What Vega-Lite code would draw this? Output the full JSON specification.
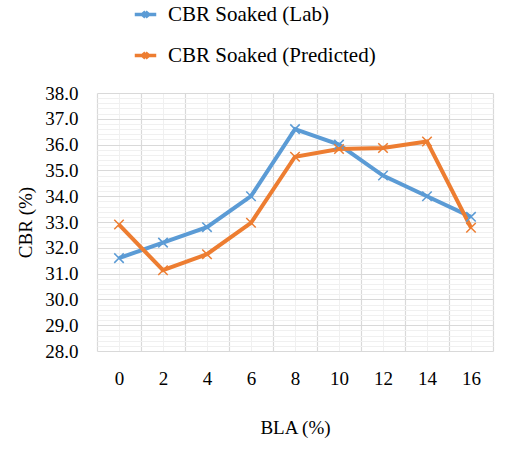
{
  "$schema": "https://vega.github.io/schema/vega-lite/v6.json",
  "width": 396,
  "height": 258,
  "autosize": "none",
  "padding": {"left": 97, "top": 93, "right": 35, "bottom": 104},
  "background": "white",
  "config": {
    "view": {"stroke": null},
    "font": "Liberation Serif, serif",
    "axis": {
      "domain": false,
      "ticks": false,
      "labelFont": "Liberation Serif, serif",
      "labelFontSize": 19,
      "labelColor": "#000000",
      "titleFont": "Liberation Serif, serif",
      "titleFontSize": 19,
      "titleFontWeight": "normal",
      "titleColor": "#000000",
      "gridOpacity": 1
    },
    "legend": {
      "labelFont": "Liberation Serif, serif",
      "labelLimit": 400
    }
  },
  "data": {
    "values": [
      {"bla": 0, "series": "CBR Soaked (Lab)", "cbr": 31.6},
      {"bla": 2, "series": "CBR Soaked (Lab)", "cbr": 32.2},
      {"bla": 4, "series": "CBR Soaked (Lab)", "cbr": 32.8},
      {"bla": 6, "series": "CBR Soaked (Lab)", "cbr": 34.0},
      {"bla": 8, "series": "CBR Soaked (Lab)", "cbr": 36.6},
      {"bla": 10, "series": "CBR Soaked (Lab)", "cbr": 36.0},
      {"bla": 12, "series": "CBR Soaked (Lab)", "cbr": 34.8},
      {"bla": 14, "series": "CBR Soaked (Lab)", "cbr": 34.0},
      {"bla": 16, "series": "CBR Soaked (Lab)", "cbr": 33.2},
      {"bla": 0, "series": "CBR Soaked (Predicted)", "cbr": 32.9},
      {"bla": 2, "series": "CBR Soaked (Predicted)", "cbr": 31.13},
      {"bla": 4, "series": "CBR Soaked (Predicted)", "cbr": 31.75},
      {"bla": 6, "series": "CBR Soaked (Predicted)", "cbr": 32.97},
      {"bla": 8, "series": "CBR Soaked (Predicted)", "cbr": 35.53},
      {"bla": 10, "series": "CBR Soaked (Predicted)", "cbr": 35.83},
      {"bla": 12, "series": "CBR Soaked (Predicted)", "cbr": 35.87},
      {"bla": 14, "series": "CBR Soaked (Predicted)", "cbr": 36.12},
      {"bla": 16, "series": "CBR Soaked (Predicted)", "cbr": 32.78}
    ]
  },
  "resolve": {"axis": {"x": "independent", "y": "independent"}},
  "layer": [
    {
      "mark": {"type": "line", "strokeWidth": 4},
      "encoding": {
        "x": {
          "field": "bla",
          "type": "quantitative",
          "scale": {"domain": [-1, 17], "nice": false, "zero": false},
          "axis": {
            "orient": "bottom",
            "values": [0, 2, 4, 6, 8, 10, 12, 14, 16],
            "grid": true,
            "gridColor": "#f0f0f0",
            "gridWidth": 1,
            "labelPadding": 18,
            "title": "BLA (%)",
            "titlePadding": 30
          }
        },
        "y": {
          "field": "cbr",
          "type": "quantitative",
          "scale": {"domain": [28, 38], "nice": false, "zero": false},
          "axis": {
            "orient": "left",
            "values": [28.2, 28.4, 28.6, 28.8, 29.2, 29.4, 29.6, 29.8, 30.2, 30.4, 30.6, 30.8, 31.2, 31.4, 31.6, 31.8, 32.2, 32.4, 32.6, 32.8, 33.2, 33.4, 33.6, 33.8, 34.2, 34.4, 34.6, 34.8, 35.2, 35.4, 35.6, 35.8, 36.2, 36.4, 36.6, 36.8, 37.2, 37.4, 37.6, 37.8],
            "grid": true,
            "gridColor": "#f0f0f0",
            "gridWidth": 1,
            "labels": false,
            "title": null
          }
        },
        "color": {
          "field": "series",
          "type": "nominal",
          "scale": {
            "domain": ["CBR Soaked (Lab)", "CBR Soaked (Predicted)"],
            "range": ["#5b9bd5", "#ed7d31"]
          },
          "legend": {
            "orient": "none",
            "legendX": 38,
            "legendY": -89,
            "title": null,
            "padding": 0,
            "symbolType": "M-1.3,0H1.3M-0.3,-0.35L0.3,0.35M-0.3,0.35L0.3,-0.35",
            "symbolSize": 273,
            "symbolStrokeWidth": 3.5,
            "labelFont": "Liberation Serif, serif",
            "labelFontSize": 21,
            "labelColor": "#000000",
            "labelLimit": 400,
            "labelOffset": 12,
            "rowPadding": 19
          }
        }
      }
    },
    {
      "mark": {
        "type": "point",
        "shape": "M-1,-1L1,1M-1,1L1,-1",
        "filled": false,
        "size": 90,
        "strokeWidth": 1.5,
        "opacity": 1
      },
      "encoding": {
        "x": {
          "field": "bla",
          "type": "quantitative",
          "axis": {
            "orient": "bottom",
            "values": [-1, 1, 3, 5, 7, 9, 11, 13, 15, 17],
            "grid": true,
            "gridColor": "#d9d9d9",
            "gridWidth": 1.2,
            "labels": false,
            "title": null
          }
        },
        "y": {
          "field": "cbr",
          "type": "quantitative",
          "axis": {
            "orient": "left",
            "values": [28, 29, 30, 31, 32, 33, 34, 35, 36, 37, 38],
            "format": ".1f",
            "grid": true,
            "gridColor": "#d9d9d9",
            "gridWidth": 1.2,
            "labelPadding": 19,
            "title": "CBR (%)",
            "titlePadding": 9
          }
        },
        "color": {"field": "series", "type": "nominal"}
      }
    }
  ]
}
